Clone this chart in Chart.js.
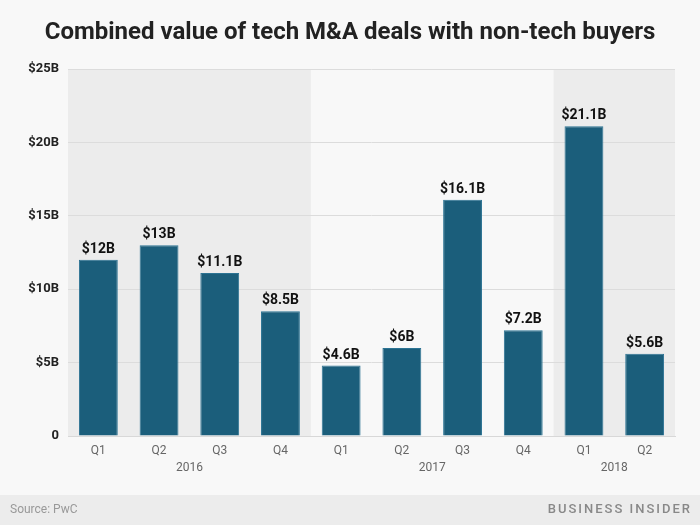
<!DOCTYPE html>
<html>
<head>
<meta charset="utf-8">
<script src="https://cdn.jsdelivr.net/npm/chart.js@4"></script>
<style>
  html, body { margin: 0; padding: 0; background: #f8f8f8; }
  #wrap { width: 700px; height: 525px; position: relative; }
</style>
</head>
<body>
<div id="wrap"><canvas id="c" width="700" height="525"></canvas></div>
<script>
const titleText = "Combined value of tech M&A deals with non-tech buyers";
const quarters = ["Q1", "Q2", "Q3", "Q4", "Q1", "Q2", "Q3", "Q4", "Q1", "Q2"];
const years = ["2016", "2016", "2016", "2016", "2017", "2017", "2017", "2017", "2018", "2018"];
const values = [12, 13, 11.1, 8.5, 4.8, 6, 16.1, 7.2, 21.1, 5.6];
const valueLabels = ["$12B", "$13B", "$11.1B", "$8.5B", "$4.6B", "$6B", "$16.1B", "$7.2B", "$21.1B", "$5.6B"];
const yTicks = [0, 5, 10, 15, 20, 25];
const yTickLabels = ["0", "$5B", "$10B", "$15B", "$20B", "$25B"];
const shadedYears = ["2016", "2018"];
const sourceText = "Source: PwC";
const brandText = "BUSINESS INSIDER";

const FONT = "Roboto, 'Open Sans', sans-serif";

function yearGroups() {
  const groups = [];
  years.forEach((y, i) => {
    const g = groups[groups.length - 1];
    if (g && g.year === y) g.end = i; else groups.push({ year: y, start: i, end: i });
  });
  return groups;
}

const decor = {
  id: 'decor',
  beforeDraw(chart) {
    const ctx = chart.ctx, x = chart.scales.x, a = chart.chartArea;
    const step = x.getPixelForValue(1) - x.getPixelForValue(0);
    ctx.save();
    ctx.fillStyle = '#ececec';
    yearGroups().forEach(g => {
      if (shadedYears.includes(g.year)) {
        const l = x.getPixelForValue(g.start) - step / 2;
        const r = x.getPixelForValue(g.end) + step / 2;
        ctx.fillRect(l, a.top, r - l, a.bottom - a.top);
      }
    });
    ctx.restore();
  },
  afterDraw(chart) {
    const ctx = chart.ctx, x = chart.scales.x, y = chart.scales.y;
    ctx.save();
    // value labels
    ctx.fillStyle = '#111';
    ctx.font = "bold 14px " + FONT;
    ctx.textAlign = 'center';
    ctx.textBaseline = 'alphabetic';
    values.forEach((v, i) => {
      ctx.fillText(valueLabels[i], x.getPixelForValue(i), y.getPixelForValue(v) - 7);
    });
    // year labels
    ctx.fillStyle = '#666';
    ctx.font = "12px " + FONT;
    ctx.textBaseline = 'middle';
    yearGroups().forEach(g => {
      const cx = (x.getPixelForValue(g.start) + x.getPixelForValue(g.end)) / 2;
      ctx.fillText(g.year, cx, 468);
    });
    // title
    ctx.fillStyle = '#222';
    ctx.font = "bold 24px " + FONT;
    ctx.fillText(titleText, 350, 33);
    // footer
    ctx.fillStyle = '#ececec';
    ctx.fillRect(0, 495, 700, 30);
    ctx.fillStyle = '#999';
    ctx.font = "12px " + FONT;
    ctx.textAlign = 'left';
    ctx.fillText(sourceText, 10, 510);
    ctx.fillStyle = '#888';
    ctx.font = "500 13px " + FONT;
    ctx.textAlign = 'right';
    ctx.letterSpacing = '2px';
    ctx.fillText(brandText, 692, 510);
    ctx.restore();
  }
};

new Chart(document.getElementById('c'), {
  type: 'bar',
  data: {
    labels: quarters,
    datasets: [{
      data: values,
      backgroundColor: '#1b5e7b',
      borderColor: '#2c7393',
      borderWidth: 1,
      barPercentage: 0.64,
      categoryPercentage: 1.0
    }]
  },
  options: {
    responsive: false,
    animation: false,
    layout: { padding: { top: 69, right: 25, left: 0, bottom: 0 } },
    plugins: { legend: { display: false }, tooltip: { enabled: false }, title: { display: false } },
    scales: {
      x: {
        grid: { display: false, drawTicks: false },
        border: { display: true, color: '#d8d8d8', width: 1 },
        ticks: { color: '#666', font: { size: 12, family: FONT }, padding: 8 },
        afterFit(s) { s.height = 89; }
      },
      y: {
        min: 0, max: 25,
        afterBuildTicks(s) { s.ticks = yTicks.map(v => ({ value: v })); },
        grid: { color: '#dcdcdc', drawTicks: false },
        border: { display: false },
        ticks: {
          color: '#222',
          font: { size: 13, weight: 'bold', family: FONT },
          padding: 9,
          callback(v) { const i = yTicks.indexOf(v); return i >= 0 ? yTickLabels[i] : ''; }
        },
        afterFit(s) { s.width = 68; }
      }
    }
  },
  plugins: [decor]
});
</script>
</body>
</html>
